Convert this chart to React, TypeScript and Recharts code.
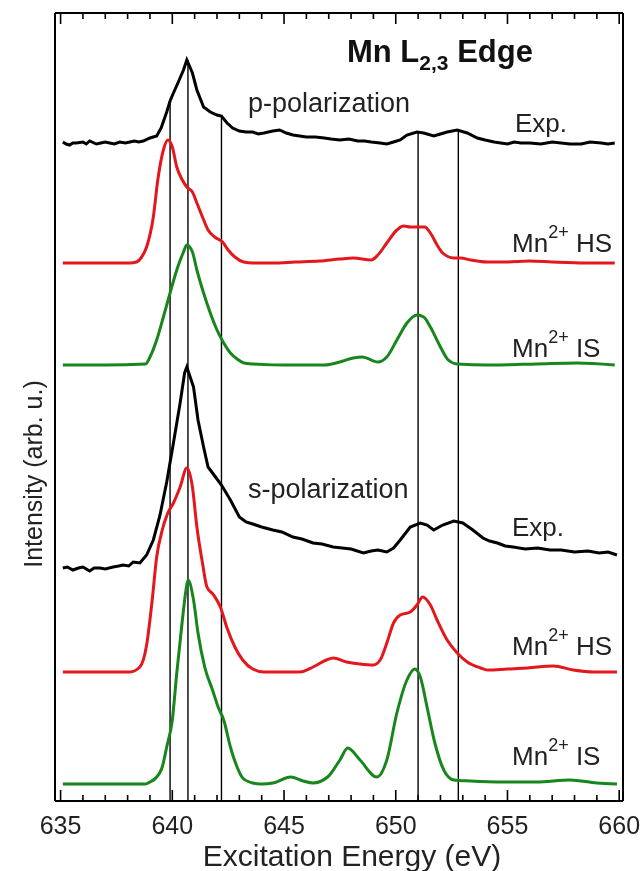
import React from 'react';
import { LineChart, Line, XAxis, YAxis, ReferenceLine } from 'recharts';

const W = 633;
const H = 863;
const FONT = 'Liberation Sans, Arial, sans-serif';

// spectra: [energy (eV), intensity above the spectrum's own baseline (arb. u.)]
const pExp = [
  [635.1, 1], [635.25, -1], [635.4, -2], [635.55, 0], [635.7, 0], [636.0, 1], [636.15, -1], [636.3, 2],
  [636.6, -1], [636.8, 0], [637.0, 1], [637.2, 0], [637.4, -1], [637.65, 1], [637.9, 0], [638.1, 1],
  [638.3, 2], [638.5, 1], [638.7, 2], [639.0, 5], [639.3, 7], [639.5, 15], [639.75, 31], [639.9, 42],
  [640.05, 50], [640.25, 60], [640.5, 73], [640.65, 83], [640.9, 70], [641.1, 53], [641.4, 36], [641.7, 31],
  [642.0, 28], [642.2, 27], [642.45, 20], [642.7, 15], [643.0, 12], [643.3, 11], [643.6, 11], [643.85, 9],
  [644.1, 10], [644.5, 12], [644.8, 13], [645.1, 10], [645.4, 8], [645.7, 7], [646.0, 6], [646.4, 6],
  [646.8, 5], [647.1, 4], [647.5, 3], [647.9, 4], [648.3, 2], [648.6, 2], [648.9, 1], [649.3, 0],
  [649.6, -1], [649.9, 1], [650.2, 3], [650.5, 8], [650.95, 11], [651.25, 10], [651.7, 7], [652.0, 9],
  [652.3, 11], [652.75, 13], [653.2, 10], [653.65, 5], [654.0, 3], [654.4, 1], [654.7, 0], [655.0, -1],
  [655.3, 1], [655.6, 0], [656.0, 0], [656.5, -1], [657.0, 1], [657.4, 0], [657.8, -1], [658.3, -1],
  [658.7, 1], [659.2, 0], [659.5, -1], [659.8, 0],
];

const pHS = [
  [635.1, 0], [636.5, 0], [638.1, 0], [638.4, 1], [638.6, 5], [638.85, 16], [639.15, 46], [639.35, 83],
  [639.6, 113], [639.8, 123], [640.0, 116], [640.2, 96], [640.45, 83], [640.65, 76], [640.9, 71], [641.1, 60],
  [641.35, 46], [641.6, 33], [641.9, 26], [642.25, 21], [642.5, 13], [642.8, 6], [643.2, 1], [643.6, 0],
  [644.5, 0], [645.5, 1], [646.6, 2], [647.5, 4], [648.1, 5], [648.9, 3], [649.2, 8], [649.6, 20],
  [650.05, 33], [650.35, 37], [650.65, 36], [651.0, 36], [651.3, 36], [651.55, 30], [651.85, 18], [652.1, 10],
  [652.6, 5], [652.9, 5], [653.35, 3], [654.1, 1], [655.0, 1], [656.0, 2], [657.0, 1], [658.5, 0], [659.8, 0],
];

const pIS = [
  [635.1, 0], [637.0, 0], [638.8, 1], [639.0, 8], [639.3, 25], [639.6, 48], [639.9, 72], [640.2, 95],
  [640.5, 113], [640.65, 120], [640.9, 113], [641.1, 95], [641.4, 72], [641.7, 52], [642.0, 35], [642.3, 22],
  [642.6, 12], [642.9, 6], [643.2, 2], [643.6, 1], [645.0, 0], [646.8, 0], [647.5, 3], [648.1, 7],
  [648.5, 8], [649.2, 3], [649.6, 8], [650.05, 25], [650.5, 42], [650.95, 50], [651.25, 48], [651.55, 38],
  [652.0, 18], [652.35, 5], [652.75, 1], [654.1, 0], [656.3, 1], [658.1, 2], [659.8, 0],
];

const sExp = [
  [635.1, 0], [635.3, 1], [635.55, -2], [635.8, 0], [636.0, 1], [636.3, -3], [636.5, 0], [636.75, 0],
  [637.0, -1], [637.35, 1], [637.6, 2], [637.8, 3], [638.05, 2], [638.25, 6], [638.55, 5], [638.85, 13],
  [639.15, 28], [639.45, 53], [639.75, 86], [640.05, 125], [640.35, 165], [640.55, 195], [640.65, 201], [640.95, 181],
  [641.15, 148], [641.4, 121], [641.6, 101], [641.9, 92], [642.2, 83], [642.6, 68], [643.0, 51], [643.3, 46],
  [643.6, 44], [644.0, 41], [644.5, 38], [644.9, 36], [645.4, 31], [645.8, 29], [646.3, 25], [646.7, 24],
  [647.2, 21], [647.6, 20], [648.0, 19], [648.55, 15], [648.9, 17], [649.2, 18], [649.6, 16], [649.9, 20],
  [650.2, 28], [650.65, 41], [651.1, 45], [651.4, 43], [651.7, 38], [652.1, 43], [652.6, 47], [653.0, 45],
  [653.45, 38], [653.9, 30], [654.2, 27], [654.55, 25], [654.9, 22], [655.25, 21], [655.8, 19], [656.35, 20],
  [656.9, 18], [657.4, 18], [658.0, 16], [658.6, 17], [659.1, 15], [659.5, 16], [659.9, 13],
];

const sHS = [
  [635.1, 0], [637.0, 0], [638.1, 0], [638.55, 5], [638.85, 27], [639.1, 72], [639.3, 115], [639.55, 142],
  [639.8, 159], [640.05, 169], [640.35, 185], [640.65, 204], [640.9, 185], [641.1, 145], [641.35, 109], [641.55, 85],
  [641.85, 77], [642.15, 65], [642.45, 44], [642.8, 25], [643.15, 12], [643.6, 3], [644.1, 0], [645.7, 0],
  [646.3, 5], [646.9, 12], [647.2, 14], [647.8, 10], [648.4, 8], [649.0, 7], [649.3, 12], [649.6, 29],
  [649.9, 49], [650.2, 57], [650.65, 60], [650.95, 67], [651.2, 75], [651.55, 67], [651.85, 52], [652.3, 32],
  [652.75, 19], [653.2, 10], [653.8, 4], [654.1, 2], [655.0, 3], [655.9, 4], [657.05, 6], [657.95, 2],
  [658.85, 0], [659.9, 0],
];

const sIS = [
  [635.1, 0], [637.0, 0], [638.8, 0], [639.0, 2], [639.3, 7], [639.55, 17], [639.75, 37], [640.0, 64],
  [640.2, 111], [640.45, 164], [640.6, 192], [640.7, 204], [640.95, 184], [641.15, 151], [641.45, 117], [641.8, 94],
  [642.05, 77], [642.3, 64], [642.6, 37], [642.9, 17], [643.15, 6], [643.6, 1], [643.95, 0], [644.5, 1],
  [645.3, 7], [645.85, 3], [646.3, 1], [646.95, 7], [647.5, 24], [647.85, 36], [648.4, 24], [649.15, 7],
  [649.6, 24], [650.05, 71], [650.5, 104], [650.85, 115], [651.1, 107], [651.4, 77], [651.75, 41], [652.15, 14],
  [652.6, 4], [653.35, 3], [654.8, 2], [656.3, 2], [657.8, 4], [659.0, 1], [659.9, 0],
];

// vertical offsets of the stacked spectra
const offsets = { pExp: 658, pHS: 538, pIS: 436, sExp: 233, sHS: 129, sIS: 17 };

// guide lines: energy and the intensity where each line starts (on the p-pol exp. curve)
const markerE = [639.9, 640.7, 642.2, 651.0, 652.8];
const markerTop = [697, 741, 684, 669, 671];

const energyTicks = [
  635, 636, 637, 638, 639, 640, 641, 642, 643, 644, 645, 646, 647,
  648, 649, 650, 651, 652, 653, 654, 655, 656, 657, 658, 659, 660,
];

const X_DOMAIN = [634.75, 660.17];
const Y_DOMAIN = [0, 788];

const RED = '#e3171c';
const GREEN = '#17861c';

const toRows = (pts: number[][], offset: number) => pts.map(([e, v]) => ({ e, y: offset + v }));

const BottomTick = (props: any) => {
  const { x, y, payload } = props;
  const major = payload.value % 5 === 0;
  return (
    <g>
      <line x1={x} x2={x} y1={y} y2={y - (major ? 11 : 6)} stroke="#000" strokeWidth={1.6} />
      {major && (
        <text x={x} y={y + 33} textAnchor="middle" fontSize={25} fontFamily={FONT} fill="#222">
          {payload.value}
        </text>
      )}
    </g>
  );
};

const TopTick = (props: any) => {
  const { x, y, payload } = props;
  const major = payload.value % 5 === 0;
  return <line x1={x} x2={x} y1={y} y2={y + (major ? 11 : 6)} stroke="#000" strokeWidth={1.6} />;
};

const Ion = ({ x, y, spin }: { x: number; y: number; spin: string }) => (
  <text x={x} y={y} fontSize={26} fontFamily={FONT} fill="#222">
    Mn
    <tspan dy={-14} fontSize={18}>2+</tspan>
    <tspan dy={14}> {spin}</tspan>
  </text>
);

export default function App() {
  // the p-pol experiment is tied to the top/right axes so that the full frame is drawn
  const series = [
    { key: 'pExp', pts: pExp, color: '#000', type: 'linear', xId: 't', yId: 'r' },
    { key: 'pHS', pts: pHS, color: RED, type: 'monotone', xId: 'b', yId: 'l' },
    { key: 'pIS', pts: pIS, color: GREEN, type: 'monotone', xId: 'b', yId: 'l' },
    { key: 'sExp', pts: sExp, color: '#000', type: 'linear', xId: 'b', yId: 'l' },
    { key: 'sHS', pts: sHS, color: RED, type: 'monotone', xId: 'b', yId: 'l' },
    { key: 'sIS', pts: sIS, color: GREEN, type: 'monotone', xId: 'b', yId: 'l' },
  ];

  return (
    <div style={{ position: 'fixed', left: 8, top: 8, width: W, height: H }}>
      <LineChart width={W} height={H} margin={{ top: 4, right: 17, bottom: 0, left: 0 }}>
        <XAxis
          xAxisId="b"
          type="number"
          dataKey="e"
          domain={X_DOMAIN}
          allowDataOverflow
          ticks={energyTicks}
          interval={0}
          height={70}
          tickSize={0}
          tickMargin={0}
          tickLine={false}
          tick={<BottomTick />}
          axisLine={{ stroke: '#000', strokeWidth: 2 }}
        />
        <XAxis
          xAxisId="t"
          orientation="top"
          type="number"
          dataKey="e"
          domain={X_DOMAIN}
          allowDataOverflow
          ticks={energyTicks}
          interval={0}
          height={1}
          tickSize={0}
          tickMargin={0}
          tickLine={false}
          tick={<TopTick />}
          axisLine={{ stroke: '#000', strokeWidth: 2 }}
        />
        <YAxis
          yAxisId="l"
          type="number"
          domain={Y_DOMAIN}
          allowDataOverflow
          width={47}
          tick={false}
          tickLine={false}
          axisLine={{ stroke: '#000', strokeWidth: 2 }}
        />
        <YAxis
          yAxisId="r"
          orientation="right"
          type="number"
          domain={Y_DOMAIN}
          allowDataOverflow
          width={1}
          tick={false}
          tickLine={false}
          axisLine={{ stroke: '#000', strokeWidth: 2 }}
        />
        {markerE.map((e, i) => (
          <ReferenceLine
            key={`m-${i}`}
            xAxisId="b"
            yAxisId="l"
            segment={[{ x: e, y: markerTop[i] }, { x: e, y: 0 }]}
            stroke="#000"
            strokeWidth={1.4}
          />
        ))}
        {series.map((s) => (
          <Line
            key={s.key}
            xAxisId={s.xId}
            yAxisId={s.yId}
            data={toRows(s.pts, offsets[s.key as keyof typeof offsets])}
            dataKey="y"
            type={s.type as any}
            stroke={s.color}
            strokeWidth={3}
            dot={false}
            activeDot={false}
            isAnimationActive={false}
          />
        ))}
      </LineChart>

      <svg
        width={W}
        height={H}
        style={{ position: 'absolute', left: 0, top: 0, pointerEvents: 'none' }}
      >
        <text x={339} y={54} fontSize={31} fontWeight="bold" fontFamily={FONT} fill="#111">
          Mn L<tspan dy={8} fontSize={21}>2,3</tspan>
          <tspan dy={-8}> Edge</tspan>
        </text>
        <text x={240} y={104} fontSize={27} fontFamily={FONT} fill="#222">p-polarization</text>
        <text x={507} y={124} fontSize={26} fontFamily={FONT} fill="#222">Exp.</text>
        <Ion x={504} y={244} spin="HS" />
        <Ion x={504} y={349} spin="IS" />
        <text x={240} y={490} fontSize={27} fontFamily={FONT} fill="#222">s-polarization</text>
        <text x={504} y={528} fontSize={26} fontFamily={FONT} fill="#222">Exp.</text>
        <Ion x={504} y={647} spin="HS" />
        <Ion x={504} y={757} spin="IS" />
        <text x={344} y={858} textAnchor="middle" fontSize={30} fontFamily={FONT} fill="#222">
          Excitation Energy (eV)
        </text>
        <text
          x={0}
          y={0}
          transform="translate(34, 466) rotate(-90)"
          textAnchor="middle"
          fontSize={25}
          fontFamily={FONT}
          fill="#222"
        >
          Intensity (arb. u.)
        </text>
      </svg>
    </div>
  );
}
